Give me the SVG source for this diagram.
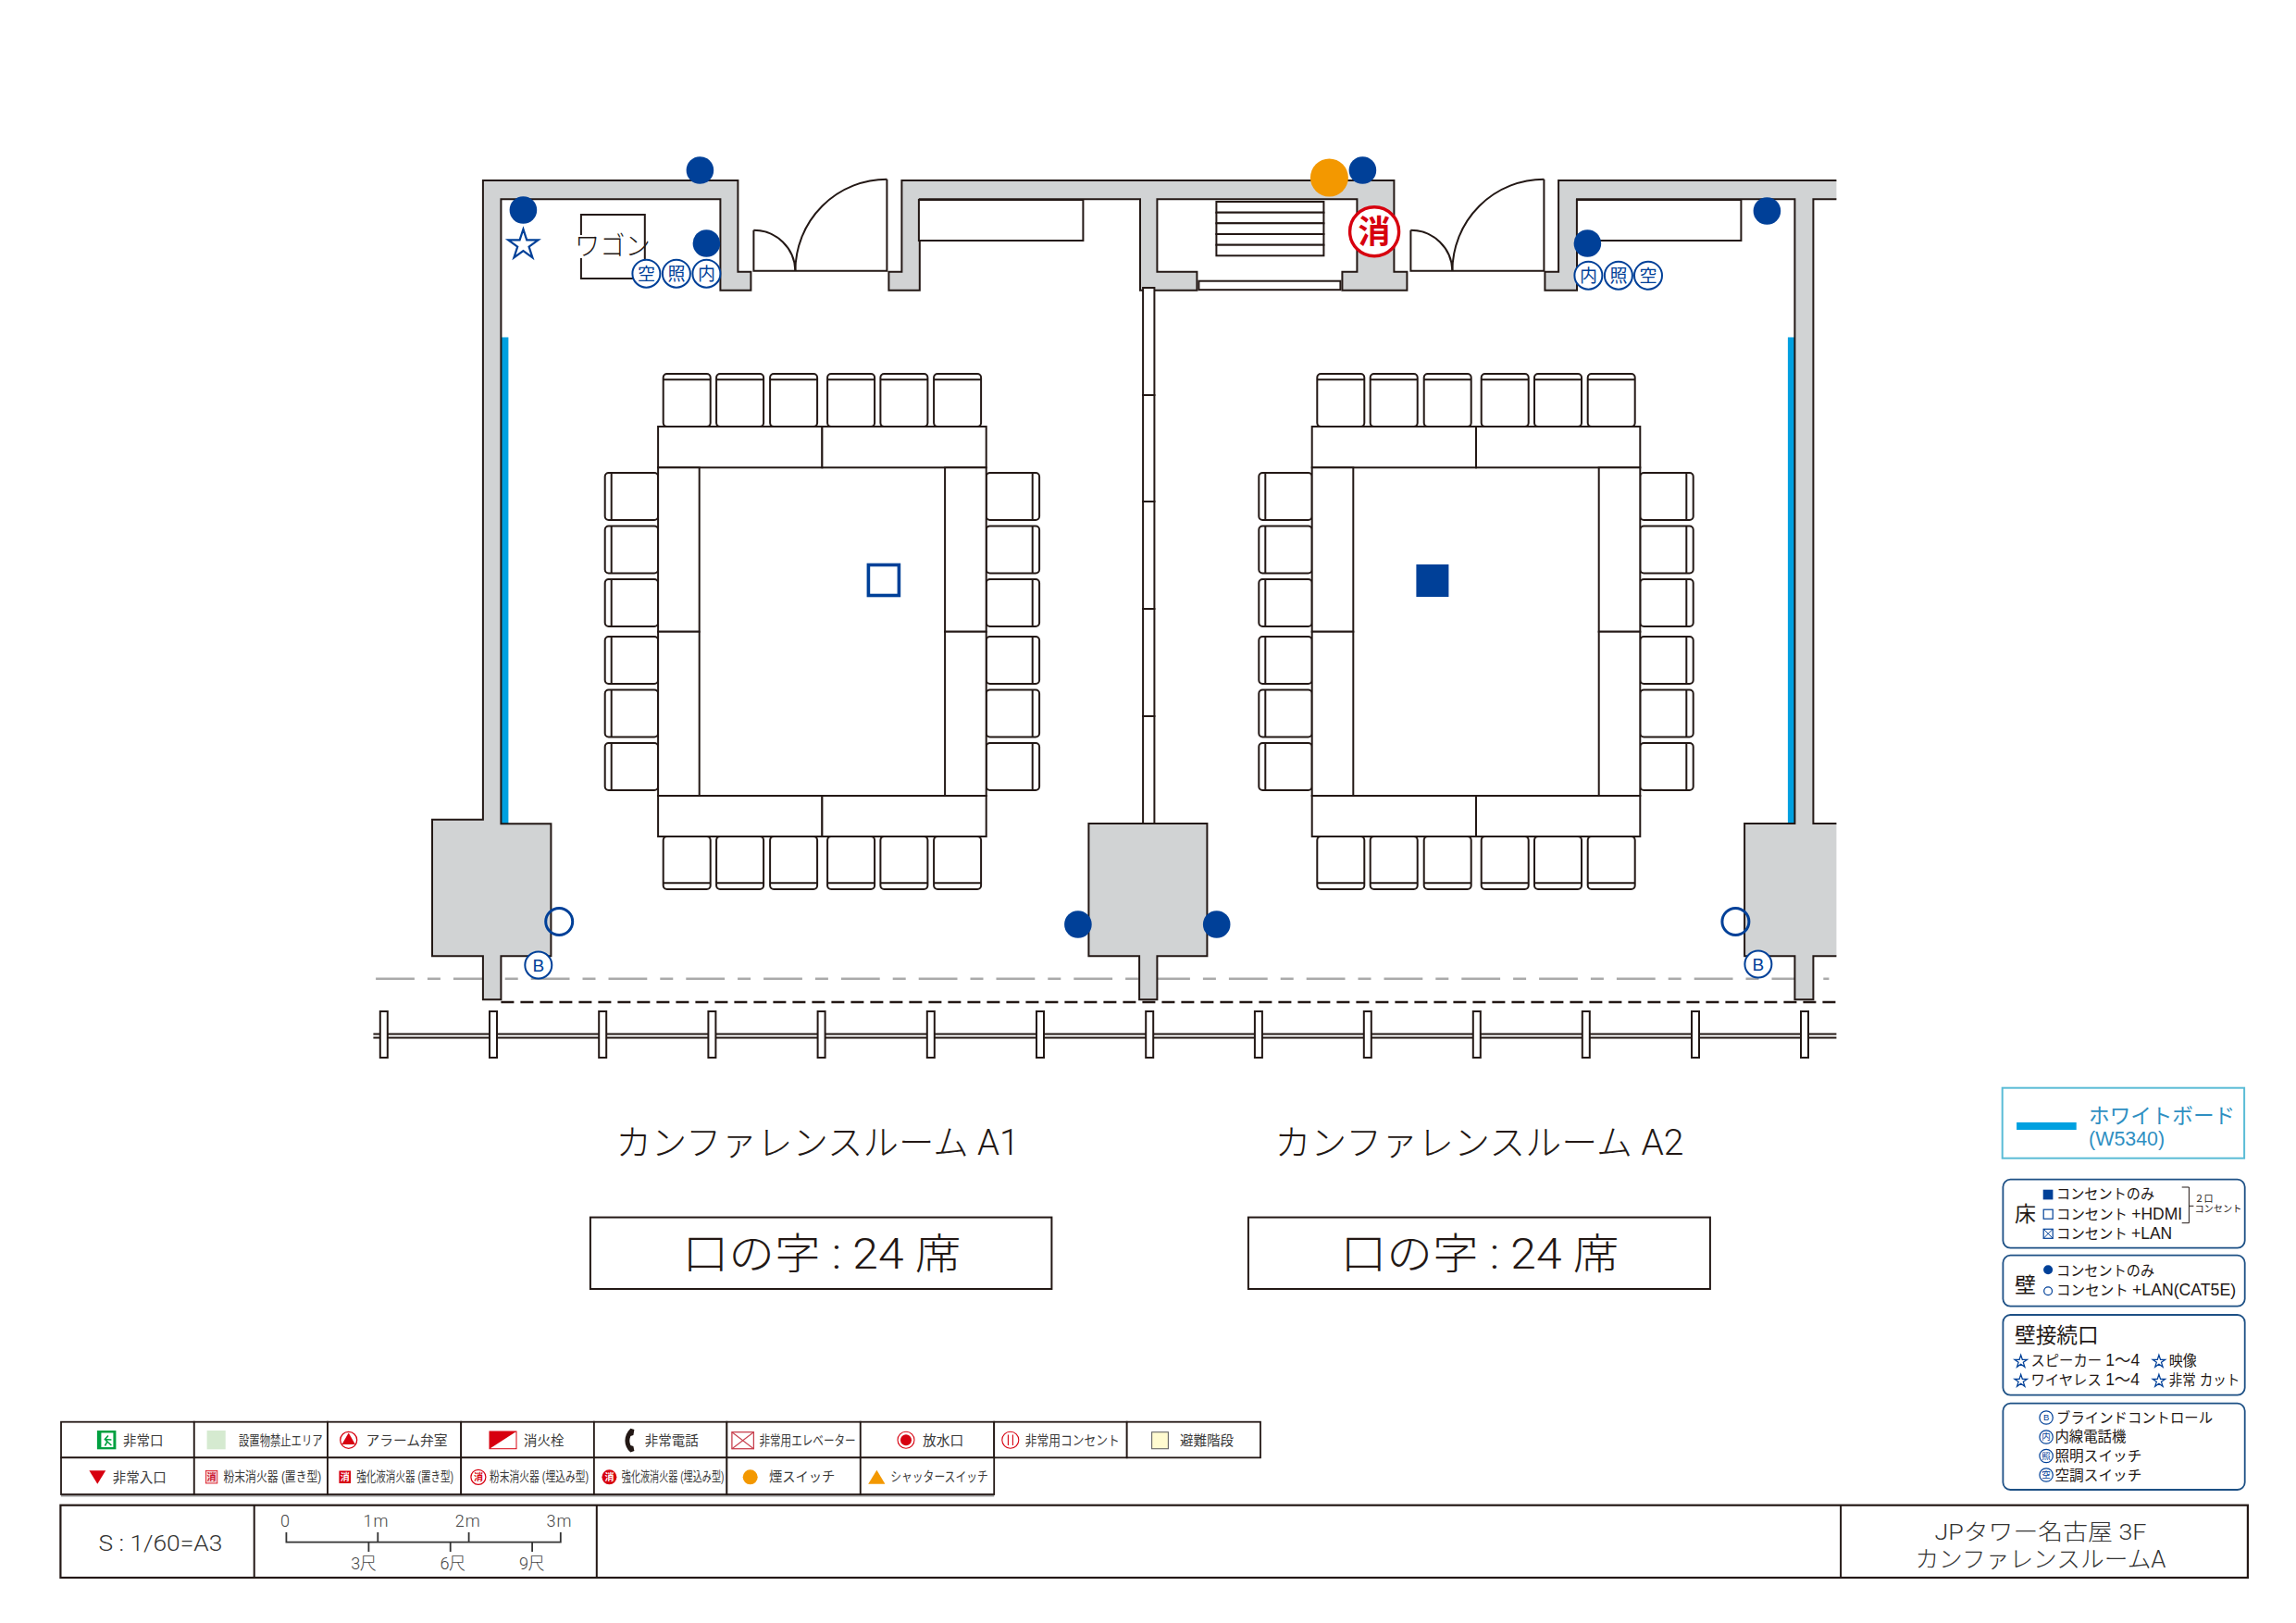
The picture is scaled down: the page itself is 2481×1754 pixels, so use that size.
<svg xmlns="http://www.w3.org/2000/svg" width="2481" height="1754" viewBox="0 0 2481 1754">
<style>
text{font-family:"Liberation Sans","Noto Sans CJK JP",sans-serif;fill:#231815}
.thin{font-family:"Roboto","Noto Sans CJK JP",sans-serif;font-weight:300}
.wall{fill:#d1d3d4;stroke:#231815;stroke-width:2}
.ln{fill:none;stroke:#231815;stroke-width:2}
.fur{fill:#fff;stroke:#231815;stroke-width:2}
.dot{fill:#004098}
.ring{fill:none;stroke:#004098;stroke-width:3}
.lab{fill:#fff;stroke:#004098;stroke-width:2}
.labt{fill:#004098;font-size:19px;text-anchor:middle}
.ttl{font-size:38px}
.cap{font-size:46px}
.lg{font-size:14.5px;fill:#3a3a3a}
.r{font-size:15.4px}
.box{fill:#fff;stroke:#1d5085;stroke-width:1.8}
.sc{font-size:18px;fill:#444}
.cell{fill:#fff;stroke:#231815;stroke-width:1.8}
.mini{fill:#fff;stroke:#004098;stroke-width:1.2}
.minit{fill:#004098;font-size:9.5px;text-anchor:middle}
</style>
<defs>
<clipPath id="cut"><rect x="0" y="0" width="1984" height="1754"/></clipPath>
<g id="s-t"><rect width="51" height="57" rx="4" class="fur"/><path d="M0 6.3H51" class="ln"/></g>
<g id="s-b"><rect width="51" height="57" rx="4" class="fur"/><path d="M0 50.3H51" class="ln"/></g>
<g id="s-l"><rect width="57.4" height="51" rx="4" class="fur"/><path d="M7 0V51" class="ln"/></g>
<g id="s-r"><rect width="57.4" height="51" rx="4" class="fur"/><path d="M50 0V51" class="ln"/></g>
<polygon id="star" points="0,-17 3.82,-5.26 16.17,-5.25 6.18,2 10,13.75 0,6.5 -10,13.75 -6.18,2 -16.17,-5.25 -3.82,-5.26"/>
<g id="furn">
<use href="#s-t" x="716.3" y="403"/><use href="#s-t" x="773.7" y="403"/><use href="#s-t" x="831.7" y="403"/><use href="#s-t" x="893.7" y="403"/><use href="#s-t" x="951" y="403"/><use href="#s-t" x="1008.7" y="403"/>
<use href="#s-b" x="716.3" y="903"/><use href="#s-b" x="773.7" y="903"/><use href="#s-b" x="831.7" y="903"/><use href="#s-b" x="893.7" y="903"/><use href="#s-b" x="951" y="903"/><use href="#s-b" x="1008.7" y="903"/>
<use href="#s-l" x="653.3" y="510"/><use href="#s-l" x="653.3" y="567.5"/><use href="#s-l" x="653.3" y="625"/><use href="#s-l" x="653.3" y="687"/><use href="#s-l" x="653.3" y="744.5"/><use href="#s-l" x="653.3" y="802"/>
<use href="#s-r" x="1065.3" y="510"/><use href="#s-r" x="1065.3" y="567.5"/><use href="#s-r" x="1065.3" y="625"/><use href="#s-r" x="1065.3" y="687"/><use href="#s-r" x="1065.3" y="744.5"/><use href="#s-r" x="1065.3" y="802"/>
<rect x="710.7" y="460" width="177.3" height="44.3" class="fur"/><rect x="888" y="460" width="177.3" height="44.3" class="fur"/>
<rect x="710.7" y="859" width="177.3" height="44" class="fur"/><rect x="888" y="859" width="177.3" height="44" class="fur"/>
<rect x="710.7" y="504.3" width="44.6" height="177.4" class="fur"/><rect x="710.7" y="681.7" width="44.6" height="177.3" class="fur"/>
<rect x="1020.7" y="504.3" width="44.6" height="177.4" class="fur"/><rect x="1020.7" y="681.7" width="44.6" height="177.3" class="fur"/>
</g>
<g id="door"><path d="M0 55V99H144V0" class="ln"/><path d="M0 55A45 45 0 0 1 45 99" class="ln"/><path d="M144 0A99 99 0 0 0 45 99" class="ln"/></g>
</defs>
<rect width="2481" height="1754" fill="#fff"/>
<g id="sheet" transform="translate(0.4 1)">

<g id="whiteboards" fill="#00a0e0">
<rect x="541.5" y="363.5" width="7.5" height="526"/>
<rect x="1931.5" y="363.5" width="7.5" height="526"/>
</g>

<g id="exterior">
<path d="M405.7 1056.7H1976" fill="none" stroke="#aaa" stroke-width="2.4" stroke-dasharray="41.8 14 14 14"/>
<path d="M541 1082H1984" fill="none" stroke="#231815" stroke-width="2.4" stroke-dasharray="14 7"/>
<path d="M403 1116.5H1984M403 1120.5H1984" fill="none" stroke="#231815" stroke-width="2.2"/>
<g class="fur">
<rect x="410.4" y="1092" width="8" height="50"/><rect x="528.6" y="1092" width="8" height="50"/><rect x="646.8" y="1092" width="8" height="50"/><rect x="765" y="1092" width="8" height="50"/><rect x="883.2" y="1092" width="8" height="50"/><rect x="1001.4" y="1092" width="8" height="50"/><rect x="1119.6" y="1092" width="8" height="50"/><rect x="1237.8" y="1092" width="8" height="50"/><rect x="1355.5" y="1092" width="8" height="50"/><rect x="1473.4" y="1092" width="8" height="50"/><rect x="1591.4" y="1092" width="8" height="50"/><rect x="1709.4" y="1092" width="8" height="50"/><rect x="1827.6" y="1092" width="8" height="50"/><rect x="1945.6" y="1092" width="8" height="50"/>
</g>
</g>

<g id="walls" clip-path="url(#cut)">
<path class="wall" d="M521.5 194H797V292.7H811V312.7H778V214.3H541V889.3H595V1032.3H541V1079.3H521.5V1032.3H466.6V884.7H521.5Z"/>
<path class="wall" d="M974 194H1506V292.7H1520V312.7H1450V292.7H1466V214.3H1250V292.7H1293V312.7H1231.6V214.3H993.4V312.7H960V292.7H974Z"/>
<path class="wall" d="M1176 889H1304V1032.3H1250V1079.3H1230.7V1032.3H1176Z"/>
<path class="wall" d="M1683.7 194H2000V214.3H1959V889H2000V1032.3H1959V1079.3H1939V1032.3H1884.7V889H1939V214.3H1703.6V312.7H1669V292.7H1683.7Z"/>
<rect x="1295" y="302.7" width="153" height="9.5" class="fur"/>
</g>

<g id="partition" class="fur">
<rect x="1234.7" y="310" width="12.3" height="116"/><rect x="1234.7" y="426" width="12.3" height="115"/><rect x="1234.7" y="541" width="12.3" height="116"/><rect x="1234.7" y="657" width="12.3" height="116"/><rect x="1234.7" y="773" width="12.3" height="116"/>
</g>

<g id="doors">
<use href="#door" x="814" y="192.7"/>
<use href="#door" x="1524" y="192.7"/>
</g>

<g id="cabinets" class="fur">
<rect x="992.5" y="215" width="177.5" height="44"/>
<rect x="1703.5" y="215" width="177.5" height="44"/>
</g>

<g id="stairs" class="fur">
<rect x="1314" y="217" width="116" height="11.7"/><rect x="1314" y="228.7" width="116" height="11.6"/><rect x="1314" y="240.3" width="116" height="11.7"/><rect x="1314" y="252" width="116" height="11.7"/><rect x="1314" y="263.7" width="116" height="11.6"/>
</g>

<g id="wagon">
<path d="M627.5 253V231H696.4V282M627.5 278V300H684" class="ln"/>
<text class="thin" x="620.5" y="275" font-size="28" textLength="82" lengthAdjust="spacingAndGlyphs">ワゴン</text>
</g>

<g id="room-a1"><use href="#furn"/>
<rect x="938" y="609.5" width="33" height="33" fill="none" stroke="#004098" stroke-width="3.6"/>
</g>
<g id="room-a2"><use href="#furn" x="706.6"/>
<rect x="1530" y="609" width="35" height="35" fill="#004098"/>
</g>

<g id="outlets">
<circle class="dot" cx="756" cy="183" r="14.8"/>
<circle class="dot" cx="565" cy="226" r="14.8"/>
<circle class="dot" cx="763" cy="262" r="14.8"/>
<circle class="dot" cx="1472" cy="183" r="14.8"/>
<circle cx="1436" cy="191" r="20.5" fill="#f39800"/>
<circle class="dot" cx="1909" cy="227" r="14.8"/>
<circle class="dot" cx="1715" cy="262" r="14.8"/>
<circle class="dot" cx="1164.5" cy="998" r="14.8"/>
<circle class="dot" cx="1314.3" cy="998" r="14.8"/>
<circle class="ring" cx="603.8" cy="995" r="14.5"/>
<circle class="ring" cx="1875" cy="995" r="14.5"/>
<use href="#star" x="565" y="263.7" fill="#fff" stroke="#004098" stroke-width="2.2"/>
</g>

<g id="extinguisher">
<circle cx="1484.7" cy="249.3" r="26.5" fill="#fff" stroke="#d7000f" stroke-width="3.4"/>
<text x="1484.7" y="262" font-size="35" font-weight="700" text-anchor="middle" style="fill:#d7000f">消</text>
</g>

<g id="switches">
<circle class="lab" cx="698" cy="294.7" r="15"/><text class="labt" style="fill:#004098" x="698" y="301.5">空</text>
<circle class="lab" cx="730.5" cy="294.7" r="15"/><text class="labt" style="fill:#004098" x="730.5" y="301.5">照</text>
<circle class="lab" cx="763" cy="294.7" r="15"/><text class="labt" style="fill:#004098" x="763" y="301.5">内</text>
<circle class="lab" cx="1716" cy="296.7" r="15"/><text class="labt" style="fill:#004098" x="1716" y="303.5">内</text>
<circle class="lab" cx="1748.5" cy="296.7" r="15"/><text class="labt" style="fill:#004098" x="1748.5" y="303.5">照</text>
<circle class="lab" cx="1780.6" cy="296.7" r="15"/><text class="labt" style="fill:#004098" x="1780.6" y="303.5">空</text>
<circle class="lab" cx="581.4" cy="1042" r="14.5"/><text class="labt" style="fill:#004098" x="581.4" y="1048.5">B</text>
<circle class="lab" cx="1899.5" cy="1041" r="14.5"/><text class="labt" style="fill:#004098" x="1899.5" y="1047.5">B</text>
</g>

<g id="title-a1">
<text class="ttl thin" x="665" y="1247" textLength="436" lengthAdjust="spacingAndGlyphs">カンファレンスルーム A1</text>
<rect x="637.5" y="1314.6" width="498.5" height="77.4" fill="#fff" stroke="#231815" stroke-width="2"/>
<text class="cap thin" x="737" y="1370" textLength="301" lengthAdjust="spacingAndGlyphs">口の字 : 24 席</text>
</g>
<g id="title-a2">
<text class="ttl thin" x="1377" y="1247" textLength="442" lengthAdjust="spacingAndGlyphs">カンファレンスルーム A2</text>
<rect x="1348.5" y="1314.6" width="499" height="77.4" fill="#fff" stroke="#231815" stroke-width="2"/>
<text class="cap thin" x="1448" y="1370" textLength="301" lengthAdjust="spacingAndGlyphs">口の字 : 24 席</text>
</g>

<g id="legend-whiteboard">
<rect x="2163.3" y="1174.7" width="261.4" height="76" fill="#fff" stroke="#5bbcd6" stroke-width="2"/>
<rect x="2178.7" y="1212" width="64.6" height="8" fill="#00a0e0"/>
<text x="2256.7" y="1212.5" font-size="22.6" textLength="158" lengthAdjust="spacingAndGlyphs" style="fill:#2f8fc2">ホワイトボード</text>
<text x="2256.7" y="1236.5" font-size="22" textLength="82" lengthAdjust="spacingAndGlyphs" style="fill:#2f8fc2">(W5340)</text>
</g>

<g id="legend-floor">
<rect class="box" x="2164" y="1273.7" width="261.3" height="74" rx="8"/>
<text x="2176.5" y="1319" font-size="23">床</text>
<rect x="2207.3" y="1284.7" width="10.7" height="10.7" fill="#004098"/>
<text class="r" x="2221.7" y="1295" textLength="106" lengthAdjust="spacingAndGlyphs">コンセントのみ</text>
<rect x="2207.8" y="1306.2" width="10" height="10" fill="#fff" stroke="#004098" stroke-width="1.2"/>
<text class="r" x="2221.7" y="1316.5" textLength="136" lengthAdjust="spacingAndGlyphs">コンセント <tspan font-size="17.5">+HDMI</tspan></text>
<rect x="2207.8" y="1327.3" width="10" height="10" fill="#fff" stroke="#004098" stroke-width="1.2"/>
<path d="M2207.8 1327.3L2217.8 1337.3M2217.8 1327.3L2207.8 1337.3" stroke="#004098" stroke-width="1"/>
<text class="r" x="2221.7" y="1337.5" textLength="125" lengthAdjust="spacingAndGlyphs">コンセント <tspan font-size="17.5">+LAN</tspan></text>
<path d="M2357.3 1282H2365V1320.7H2357.3M2365 1302.3H2370" fill="none" stroke="#231815" stroke-width="1"/>
<text x="2371" y="1298" font-size="10" textLength="20">２口</text>
<text x="2371" y="1309.3" font-size="10.2" textLength="51">コンセント</text>
</g>

<g id="legend-wall">
<rect class="box" x="2164" y="1355.7" width="261.3" height="55" rx="8"/>
<text x="2176.5" y="1395.5" font-size="23">壁</text>
<circle cx="2212.7" cy="1371.3" r="5" fill="#004098"/>
<text class="r" x="2221.7" y="1378.3" textLength="106" lengthAdjust="spacingAndGlyphs">コンセントのみ</text>
<circle cx="2212.7" cy="1394.3" r="4.4" fill="#fff" stroke="#004098" stroke-width="1.2"/>
<text class="r" x="2221.7" y="1399.3" textLength="194" lengthAdjust="spacingAndGlyphs">コンセント <tspan font-size="17.5">+LAN(CAT5E)</tspan></text>
</g>

<g id="legend-ports">
<rect class="box" x="2164" y="1420" width="261.3" height="86.7" rx="8"/>
<text x="2176.7" y="1450" font-size="22.7" textLength="90.6">壁接続口</text>
<use href="#star" transform="translate(2183.3 1470.5) scale(.42)" fill="#fff" stroke="#004098" stroke-width="3"/>
<text class="r" x="2194" y="1475" textLength="117.7" lengthAdjust="spacingAndGlyphs">スピーカー <tspan font-size="17.5">1～4</tspan></text>
<use href="#star" transform="translate(2332.5 1470.5) scale(.42)" fill="#fff" stroke="#004098" stroke-width="3"/>
<text class="r" x="2343.3" y="1475" textLength="30" lengthAdjust="spacingAndGlyphs">映像</text>
<use href="#star" transform="translate(2183.3 1491.5) scale(.42)" fill="#fff" stroke="#004098" stroke-width="3"/>
<text class="r" x="2194" y="1496" textLength="117.7" lengthAdjust="spacingAndGlyphs">ワイヤレス <tspan font-size="17.5">1～4</tspan></text>
<use href="#star" transform="translate(2332.5 1491.5) scale(.42)" fill="#fff" stroke="#004098" stroke-width="3"/>
<text class="r" x="2343.3" y="1496" textLength="76.7" lengthAdjust="spacingAndGlyphs">非常 カット</text>
</g>

<g id="legend-switches">
<rect class="box" x="2164" y="1515.7" width="261.3" height="93.3" rx="8"/>
<circle class="mini" cx="2210.7" cy="1531" r="7.2"/><text class="minit" style="fill:#004098" x="2210.7" y="1534.4">B</text>
<text class="r" x="2221.7" y="1536.7" textLength="169" lengthAdjust="spacingAndGlyphs">ブラインドコントロール</text>
<circle class="mini" cx="2210.7" cy="1552" r="7.2"/><text class="minit" style="fill:#004098" x="2210.7" y="1555.4">内</text>
<text class="r" x="2220" y="1557.3" textLength="77" lengthAdjust="spacingAndGlyphs">内線電話機</text>
<circle class="mini" cx="2210.7" cy="1572.5" r="7.2"/><text class="minit" style="fill:#004098" x="2210.7" y="1575.9">照</text>
<text class="r" x="2220" y="1578.3" textLength="94" lengthAdjust="spacingAndGlyphs">照明スイッチ</text>
<circle class="mini" cx="2210.7" cy="1593" r="7.2"/><text class="minit" style="fill:#004098" x="2210.7" y="1596.4">空</text>
<text class="r" x="2220" y="1599.3" textLength="94" lengthAdjust="spacingAndGlyphs">空調スイッチ</text>
</g>

<g id="symbol-table">
<path d="M65.6 1615.5H1073.8" stroke="#999" stroke-width="2"/>
<g class="cell">
<rect x="65.6" y="1535.7" width="143.8" height="38.6"/><rect x="209.4" y="1535.7" width="144.2" height="38.6"/><rect x="353.6" y="1535.7" width="144.2" height="38.6"/><rect x="497.8" y="1535.7" width="143.7" height="38.6"/><rect x="641.5" y="1535.7" width="143.5" height="38.6"/><rect x="785" y="1535.7" width="144.4" height="38.6"/><rect x="929.4" y="1535.7" width="144.4" height="38.6"/><rect x="1073.8" y="1535.7" width="143.5" height="38.6"/><rect x="1217.3" y="1535.7" width="144.3" height="38.6"/>
<rect x="65.6" y="1574.3" width="143.8" height="39.7"/><rect x="209.4" y="1574.3" width="144.2" height="39.7"/><rect x="353.6" y="1574.3" width="144.2" height="39.7"/><rect x="497.8" y="1574.3" width="143.7" height="39.7"/><rect x="641.5" y="1574.3" width="143.5" height="39.7"/><rect x="785" y="1574.3" width="144.4" height="39.7"/><rect x="929.4" y="1574.3" width="144.4" height="39.7"/>
</g>
<rect x="104.5" y="1545" width="20.5" height="20.3" fill="#00a040"/>
<path d="M109 1547.5H122V1563H109Z" fill="#fff"/>
<path d="M116.5 1550.5L113 1554.5L115.5 1557L113 1561.5M113 1554.5L120 1555M115.5 1557L120 1561" fill="none" stroke="#00a040" stroke-width="1.6"/>
<text class="lg" x="132.6" y="1561" textLength="43.4" lengthAdjust="spacingAndGlyphs">非常口</text>
<rect x="223.2" y="1545" width="20.1" height="20.3" fill="#d5ead0"/>
<text class="lg" x="257.6" y="1561" textLength="90.6" lengthAdjust="spacingAndGlyphs">設置物禁止エリア</text>
<circle cx="376.3" cy="1555.3" r="9" fill="#fff" stroke="#d7000f" stroke-width="1.3"/>
<path d="M376.3 1547.5L383.5 1560H369Z" fill="#d7000f"/>
<text class="lg" x="395" y="1561" textLength="88" lengthAdjust="spacingAndGlyphs">アラーム弁室</text>
<rect x="528.6" y="1546" width="29" height="18.7" fill="#fff" stroke="#d7000f" stroke-width="1"/>
<path d="M528.6 1546H557.6L528.6 1564.7Z" fill="#d7000f"/>
<text class="lg" x="565.6" y="1561" textLength="43.4" lengthAdjust="spacingAndGlyphs">消火栓</text>
<path d="M681 1542.7L685 1544L684 1550L681 1551C679.5 1555 679.5 1557 681 1561L684 1562L685 1567L681 1568.5C673 1562 673 1550 681 1542.7Z" fill="#231815"/>
<text class="lg" x="696.4" y="1561" textLength="58" lengthAdjust="spacingAndGlyphs">非常電話</text>
<rect x="790.5" y="1546.7" width="23.5" height="18" fill="#fff" stroke="#c8414f" stroke-width="1.3"/>
<path d="M790.5 1546.7L814 1564.7M814 1546.7L790.5 1564.7" stroke="#c8414f" stroke-width="1.1"/>
<text class="lg" x="820" y="1561" textLength="104.3" lengthAdjust="spacingAndGlyphs">非常用エレベーター</text>
<circle cx="978.6" cy="1555.3" r="9" fill="#fff" stroke="#d7000f" stroke-width="1.1"/>
<circle cx="978.6" cy="1555.3" r="6" fill="#d7000f"/>
<text class="lg" x="996.7" y="1561" textLength="44.3" lengthAdjust="spacingAndGlyphs">放水口</text>
<circle cx="1091.4" cy="1555.3" r="9" fill="#fff" stroke="#d7000f" stroke-width="1.1"/>
<path d="M1089 1549.5V1561M1094 1549.5V1561" stroke="#d7000f" stroke-width="1.1"/>
<text class="lg" x="1107.4" y="1561" textLength="101.9" lengthAdjust="spacingAndGlyphs">非常用コンセント</text>
<rect x="1244.2" y="1546.7" width="17.8" height="18" fill="#fffbd0" stroke="#666" stroke-width="1.1"/>
<text class="lg" x="1274.5" y="1561" textLength="58.1" lengthAdjust="spacingAndGlyphs">避難階段</text>

<path d="M96 1588.3H113.8L104.9 1602.7Z" fill="#d7000f"/>
<text class="lg" x="121.4" y="1600.5" textLength="58.1" lengthAdjust="spacingAndGlyphs">非常入口</text>
<rect x="222" y="1588.5" width="12.4" height="13.5" fill="#f6d5d5" stroke="#d7000f" stroke-width=".8"/>
<text x="228.2" y="1599" font-size="10" text-anchor="middle" style="fill:#c8102e" font-weight="700">消</text>
<text class="lg" x="241" y="1600" textLength="105.9" lengthAdjust="spacingAndGlyphs">粉末消火器 (置き型)</text>
<rect x="366" y="1588.5" width="12.6" height="13.5" fill="#d7000f"/>
<text x="372.3" y="1599" font-size="10" text-anchor="middle" style="fill:#fff" font-weight="700">消</text>
<text class="lg" x="384.8" y="1600" textLength="104.9" lengthAdjust="spacingAndGlyphs">強化液消火器 (置き型)</text>
<circle cx="516.5" cy="1595.3" r="8" fill="#fff" stroke="#d7000f" stroke-width="1.2"/>
<text x="516.5" y="1599" font-size="10" text-anchor="middle" style="fill:#d7000f" font-weight="700">消</text>
<text class="lg" x="528.6" y="1600" textLength="107.1" lengthAdjust="spacingAndGlyphs">粉末消火器 (埋込み型)</text>
<circle cx="658" cy="1595.3" r="8" fill="#d7000f"/>
<text x="658" y="1599" font-size="10" text-anchor="middle" style="fill:#fff" font-weight="700">消</text>
<text class="lg" x="671.4" y="1600" textLength="110.6" lengthAdjust="spacingAndGlyphs">強化液消火器 (埋込み型)</text>
<circle cx="810.3" cy="1595.3" r="8" fill="#f39800"/>
<text class="lg" x="830.5" y="1600" textLength="71.5" lengthAdjust="spacingAndGlyphs">煙スイッチ</text>
<path d="M947 1587.7L956 1602.7H937.8Z" fill="#f39800"/>
<text class="lg" x="961.8" y="1600" textLength="105.6" lengthAdjust="spacingAndGlyphs">シャッタースイッチ</text>
</g>

<g id="title-block">
<rect x="65" y="1625.7" width="2363.5" height="78.3" fill="#fff" stroke="#231815" stroke-width="2.2"/>
<path d="M274.3 1625.7V1704M644.4 1625.7V1704M1988.7 1625.7V1704" class="ln"/>
<text class="thin" x="106" y="1675" font-size="23" textLength="134" lengthAdjust="spacingAndGlyphs" style="fill:#333">S : 1/60=A3</text>
<path d="M309 1655V1665.7H605.4V1655M407.9 1655V1665.7M506.2 1655V1665.7M398 1665.7V1676M486.3 1665.7V1676M574.7 1665.7V1676" fill="none" stroke="#333" stroke-width="1.8"/>
<text class="sc thin" x="302.5" y="1649.3">0</text>
<text class="sc thin" x="392" y="1649.3" textLength="27">1m</text>
<text class="sc thin" x="491.3" y="1649.3" textLength="27">2m</text>
<text class="sc thin" x="590" y="1649.3" textLength="27">3m</text>
<text class="sc thin" x="378.8" y="1694.7" textLength="27.5">3尺</text>
<text class="sc thin" x="475" y="1694.7" textLength="27.5">6尺</text>
<text class="sc thin" x="560.6" y="1694.7" textLength="27.5">9尺</text>
<text class="thin" x="2090" y="1663" font-size="24" textLength="229" lengthAdjust="spacingAndGlyphs" style="fill:#333">JPタワー名古屋 3F</text>
<text class="thin" x="2069" y="1693" font-size="25" textLength="271" lengthAdjust="spacingAndGlyphs" style="fill:#333">カンファレンスルームA</text>
</g>
</g>
</svg>
